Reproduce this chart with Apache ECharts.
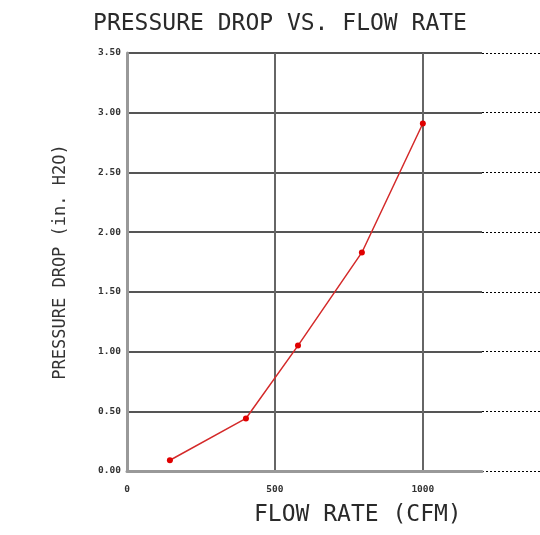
<!DOCTYPE html>
<html><head><meta charset="utf-8">
<script src="https://cdn.jsdelivr.net/npm/echarts@6/dist/echarts.min.js"></script>
<style>html,body{margin:0;padding:0;background:#fff}#c{width:540px;height:535px}</style>
</head><body><div id="c"></div>
<script>
const flowRate = [145, 402, 578, 794, 1000];
const pressureDrop = [0.09, 0.44, 1.05, 1.83, 2.91];
const yTicks = [0, 0.5, 1.0, 1.5, 2.0, 2.5, 3.0, 3.5];
const xTicks = [0, 500, 1000];
const FONT = '"DejaVu Sans Mono", monospace';
const chart = echarts.init(document.getElementById('c'));
chart.setOption({
  animation: false,
  backgroundColor: '#fff',
  title: {
    text: 'PRESSURE DROP VS. FLOW RATE',
    left: 275, top: 8, textAlign: 'center',
    textStyle: {fontFamily: FONT, fontSize: 23, fontWeight: 'normal', color: '#2a2a2a'}
  },
  graphic: [
    {type: 'text', left: 254, top: 504,
     style: {text: 'FLOW RATE (CFM)', font: '23px "DejaVu Sans Mono"', fill: '#2a2a2a'}}
  ],
  grid: [
    {left: 127, right: 58, top: 53, bottom: 64},
    {left: 482, right: 0, top: 53, bottom: 64}
  ],
  xAxis: [
    {type: 'value', min: 0, max: 1200, interval: 500, gridIndex: 0,
     axisLine: {show: true, lineStyle: {color: '#999', width: 3}},
     axisTick: {show: false},
     axisLabel: {fontFamily: FONT, fontSize: 9.5, fontWeight: 'bold', color: '#333', margin: 14, showMaxLabel: false,
       formatter: v => xTicks.includes(v) ? String(v) : ''},
     splitLine: {show: true, lineStyle: {color: ['#666', '#666', '#666', 'rgba(0,0,0,0)'], width: 2}}
    },
    {type: 'value', min: 0, max: 1, gridIndex: 1, show: false}
  ],
  yAxis: [
    {type: 'value', min: 0, max: 3.5, interval: 0.5, gridIndex: 0,
     name: 'PRESSURE DROP (in. H2O)', nameLocation: 'middle', nameGap: 58,
     nameTextStyle: {fontFamily: FONT, fontSize: 17, color: '#333'},
     axisLine: {show: true, lineStyle: {color: '#999', width: 3}},
     axisTick: {show: false},
     axisLabel: {fontFamily: FONT, fontSize: 9.5, fontWeight: 'bold', color: '#333', margin: 6,
       formatter: v => yTicks.includes(v) ? v.toFixed(2) : ''},
     splitLine: {show: true, lineStyle: {color: '#555', width: 2}}
    },
    {type: 'value', min: 0, max: 3.5, interval: 0.5, gridIndex: 1,
     axisLine: {show: false}, axisTick: {show: false}, axisLabel: {show: false},
     splitLine: {show: true, lineStyle: {color: '#000', width: 1, type: [2, 2]}}
    }
  ],
  series: [
    {type: 'line', xAxisIndex: 0, yAxisIndex: 0,
     data: flowRate.map((x, i) => [x, pressureDrop[i]]),
     symbol: 'circle', symbolSize: 6,
     lineStyle: {color: '#d42a2a', width: 1.5},
     itemStyle: {color: '#e00000'}
    }
  ]
});
</script></body></html>
